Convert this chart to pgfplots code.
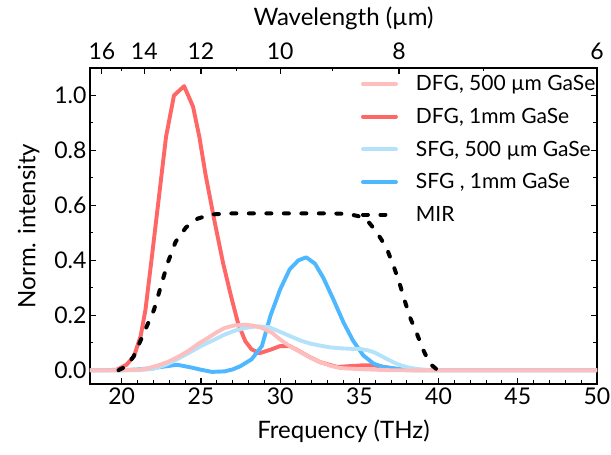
\documentclass[border=0pt]{standalone}
\usepackage{pgfplots}
\pgfplotsset{compat=1.18}
\usepackage{fontspec}
\setmainfont{Lato}

\definecolor{dfgthin}{RGB}{255,190,190}
\definecolor{dfgthick}{RGB}{255,102,102}
\definecolor{sfgthin}{RGB}{180,226,250}
\definecolor{sfgthick}{RGB}{77,184,255}

\pgfplotsset{
    frame/.style={
        scale only axis, width=507pt, height=316pt,
        xmin=18, xmax=50, ymin=-0.05, ymax=1.1,
        axis line style={line width=1.2pt},
        major tick style={line width=1.2pt, black},
        minor tick style={line width=1pt, black},
        major tick length=6pt, minor tick length=3.5pt,
        tick label style={font=\fontsize{23}{27}\selectfont},
        label style={font=\fontsize{24}{28}\selectfont},
        /pgf/number format/assume math mode=true,
    },
    curve/.style={line width=3.9pt, line join=round, line cap=round},
    mir/.style={line width=4pt, black, line cap=round, dash pattern=on 5pt off 12.5pt},
}

\begin{document}
\begin{tikzpicture}
\path[use as bounding box] (-90pt,-71pt) rectangle (521pt,384pt);
\begin{axis}[
    frame,
    xtick={20,25,30,35,40,45,50}, minor x tick num=4,
    ytick={0,0.2,0.4,0.6,0.8,1.0}, minor y tick num=1,
    xtick pos=bottom,
    yticklabel style={/pgf/number format/.cd, fixed, fixed zerofill, precision=1},
    xlabel={Frequency (THz)}, ylabel={Norm. intensity},
    xlabel style={yshift=-9pt},
    ylabel style={yshift=8pt},
    legend style={draw=none, fill=none, at={(axis cs:34.9,1.088)}, anchor=north west,
        font=\fontsize{21}{25}\selectfont, row sep=12pt, column sep=16pt},
    legend cell align=left,
    legend image code/.code={\draw[#1] (0pt,0pt) -- (33pt,0pt);},
]
\addlegendimage{curve, dfgthin}
\addlegendentry{DFG, 500 µm GaSe}
\addlegendimage{curve, dfgthick}
\addlegendentry{DFG, 1mm GaSe}
\addlegendimage{curve, sfgthin}
\addlegendentry{SFG, 500 µm GaSe}
\addlegendimage{curve, sfgthick}
\addlegendentry{SFG , 1mm GaSe}
\addlegendimage{mir}
\addlegendentry{MIR}

% DFG, 1mm GaSe
\addplot[curve, dfgthick, forget plot] coordinates {
(18,0) (19,0) (19.7,0.002) (20.3,0.02) (20.77,0.05) (21.2,0.125) (21.5,0.22)
(21.9,0.41) (22.35,0.63) (22.8,0.85) (23.3,1.0) (23.94,1.034) (24.5,0.96)
(24.9,0.85) (25.3,0.71) (25.85,0.545) (26.4,0.39) (26.9,0.27) (27.35,0.17)
(27.8,0.106) (28.2,0.076) (28.7,0.062) (29.4,0.075) (30.0,0.088) (30.6,0.088)
(31.2,0.07) (31.8,0.05) (32.5,0.03) (33.6,0.012) (34.4,0.015) (35.2,0.018)
(35.9,0.018) (36.6,0.012) (37.3,0.005) (38,0) (50,0)
};
% SFG, 1mm GaSe
\addplot[curve, sfgthick, forget plot] coordinates {
(18,0) (20,0) (21,0.003) (22.25,0.01) (23,0.016) (23.5,0.02) (24.4,0.01)
(25,0.002) (25.7,-0.006) (26.5,-0.004) (27,0.003) (27.5,0.015) (28.2,0.04)
(28.85,0.088) (29.4,0.2) (30,0.294) (30.6,0.367) (31.15,0.40) (31.65,0.411)
(32.2,0.388) (32.73,0.336) (33.36,0.258) (34.0,0.174) (34.6,0.108)
(35.25,0.054) (35.9,0.024) (36.5,0.012) (37.6,0.004) (38.5,0) (50,0)
};
% SFG, 500 um GaSe
\addplot[curve, sfgthin, forget plot] coordinates {
(18,0) (21,0) (22,0.005) (22.8,0.02) (23.5,0.04) (24.2,0.062) (25,0.088)
(25.8,0.11) (26.5,0.13) (27.2,0.145) (27.8,0.154) (28.5,0.16) (29.3,0.157)
(30,0.14) (30.6,0.125) (31.3,0.108) (31.9,0.097) (32.5,0.09) (33.2,0.083)
(33.8,0.08) (34.5,0.078) (35,0.078) (35.5,0.073) (35.9,0.066) (36.3,0.055)
(36.7,0.042) (37.2,0.028) (37.6,0.018) (38.1,0.01) (38.6,0.005) (39.5,0) (50,0)
};
% DFG, 500 um GaSe
\addplot[curve, dfgthin, forget plot] coordinates {
(18,0) (20,0) (21,0.002) (21.6,0.006) (22.3,0.018) (22.9,0.03) (23.6,0.05)
(24.2,0.07) (24.8,0.095) (25.45,0.118) (26,0.138) (26.5,0.154) (27.1,0.163)
(27.8,0.166) (28.3,0.162) (28.85,0.154) (29.5,0.136) (30,0.112) (30.6,0.088)
(31.3,0.066) (31.9,0.046) (32.5,0.03) (33.2,0.016) (33.8,0.008) (35,0.004)
(36,0.002) (37,0) (50,0)
};
% MIR
\addplot[mir, forget plot] coordinates {
(19.8,0) (20.3,0.015) (20.77,0.052) (21.4,0.136) (22.04,0.22) (22.47,0.305)
(22.9,0.39) (23.4,0.467) (24.06,0.52) (24.8,0.552) (25.66,0.567) (27,0.571)
(30,0.571) (33,0.571) (34.3,0.569) (35,0.56) (35.5,0.545) (36.0,0.51)
(36.4,0.475) (36.8,0.433) (37.2,0.373) (37.56,0.312) (37.87,0.252) (38.2,0.192)
(38.6,0.138) (39.0,0.078) (39.45,0.024) (39.87,0.004) (40.2,0)
};
\end{axis}
\begin{axis}[
    frame,
    axis x line*=top, axis y line=none,
    xtick={18.75,21.4286,25,30,37.5,50},
    xticklabels={16,14,12,10,8,6},
    minor xtick={20,23.0769,27.2727,33.3333,42.8571},
    xticklabel style={yshift=5pt},
    xlabel={Wavelength (µm)},
    xlabel style={yshift=6pt},
]
\addplot[draw=none] coordinates {(20,0)};
\end{axis}
\end{tikzpicture}
\end{document}
